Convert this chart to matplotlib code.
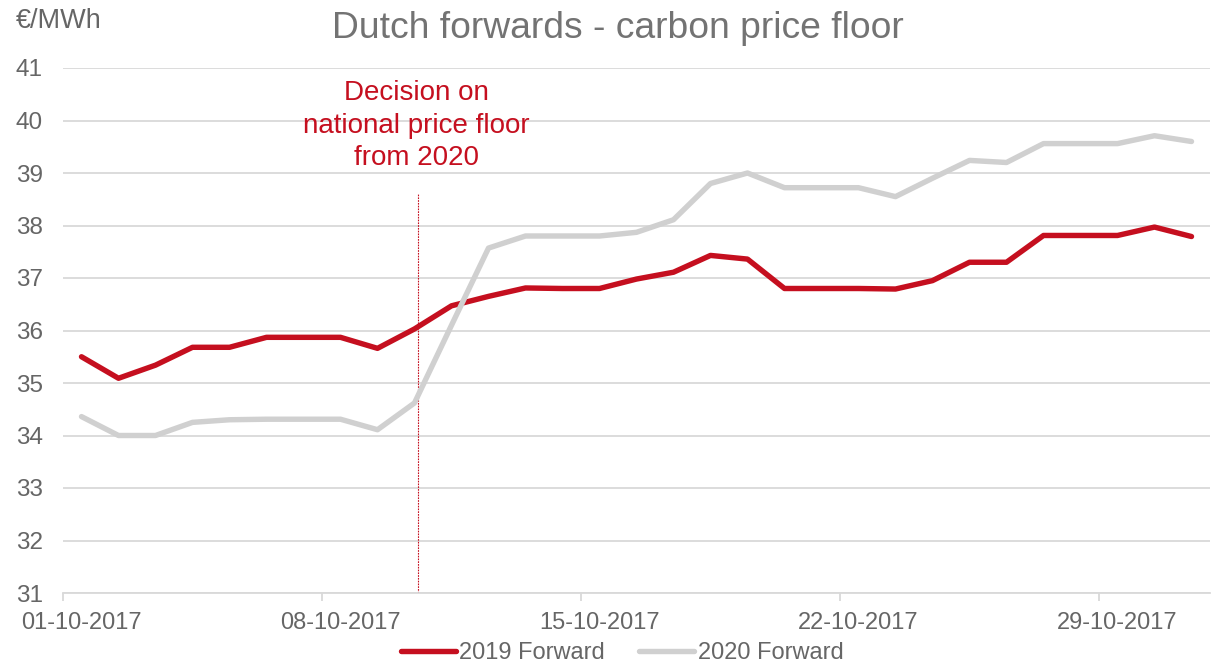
import matplotlib
matplotlib.use("Agg")
import matplotlib.pyplot as plt
import matplotlib.dates as mdates
import pandas as pd

plt.rcParams['font.family'] = ['Liberation Sans', 'DejaVu Sans']

# ---- data ----
dates = pd.date_range("2017-10-01", "2017-10-31", freq="D")
fwd_2019 = [35.50, 35.09, 35.34, 35.68, 35.68, 35.87, 35.87, 35.87, 35.66, 36.03,
            36.47, 36.65, 36.81, 36.80, 36.80, 36.98, 37.11, 37.43, 37.36, 36.80,
            36.80, 36.80, 36.79, 36.95, 37.30, 37.30, 37.81, 37.81, 37.81, 37.97, 37.79]
fwd_2020 = [34.36, 34.00, 34.00, 34.25, 34.30, 34.31, 34.31, 34.31, 34.11, 34.62,
            36.10, 37.57, 37.80, 37.80, 37.80, 37.87, 38.11, 38.80, 39.00, 38.72,
            38.72, 38.72, 38.55, 38.90, 39.24, 39.20, 39.56, 39.56, 39.56, 39.71, 39.60]
series_names = ["2019 Forward", "2020 Forward"]
tick_dates = pd.to_datetime(["2017-10-01", "2017-10-08", "2017-10-15", "2017-10-22", "2017-10-29"])
tick_labels = ["01-10-2017", "08-10-2017", "15-10-2017", "22-10-2017", "29-10-2017"]
y_ticks = list(range(31, 42))
decision_date = pd.Timestamp("2017-10-10 02:00")
decision_text = "Decision on\nnational price floor\nfrom 2020"
title = "Dutch forwards - carbon price floor"
unit = "€/MWh"

RED = "#C50F1F"
GREY = "#D0D0D0"
TXT = "#666666"
GRID = "#D9D9D9"

fig = plt.figure(figsize=(12.12, 6.63), dpi=100)
ax = fig.add_axes([63/1212, 1-593/663, (1210-63)/1212, (593-68)/663])

half = pd.Timedelta(hours=12)
ax.set_xlim(dates[0] - half, dates[-1] + half)
ax.set_ylim(31, 41)

l1, = ax.plot(dates, fwd_2019, color=RED, lw=3.9, solid_capstyle='round', zorder=3, label=series_names[0])
l2, = ax.plot(dates, fwd_2020, color=GREY, lw=3.9, solid_capstyle='round', zorder=4, label=series_names[1])

ax.vlines(decision_date, 31, 38.62, colors=RED, linestyles=(0, (1.5, 1.0)), lw=0.8, zorder=2)
ax.text(decision_date - pd.Timedelta(hours=1), 40.77, decision_text, ha='center', va='top',
        color=RED, fontsize=20, linespacing=1.33)

ax.set_yticks(y_ticks)
ax.set_yticklabels([str(v) for v in y_ticks])
ax.yaxis.grid(True, color=GRID, lw=1.3)
ax.set_axisbelow(True)
ax.tick_params(axis='y', length=0, pad=14.5, labelsize=17.5, labelcolor=TXT)

ax.set_xticks(tick_dates)
ax.set_xticklabels(tick_labels)
ax.set_xticks([d - half for d in tick_dates], minor=True)
ax.tick_params(axis='x', which='major', length=0, pad=14, labelsize=17, labelcolor=TXT)
ax.tick_params(axis='x', which='minor', length=6, width=1.3, color=GRID, direction='out')

for s in ['top', 'right', 'left']:
    ax.spines[s].set_visible(False)
ax.spines['bottom'].set_color(GRID)
ax.spines['bottom'].set_linewidth(1.3)

fig.text(618/1212, 1-28/663, title, ha='center', va='center', fontsize=26.8, color="#737373")
fig.text(16/1212, 1-21/663, unit, ha='left', va='center', fontsize=19.5, color=TXT)

leg = fig.legend(handles=[l1, l2], loc='center', bbox_to_anchor=(622/1212, 1-653/663), ncol=2,
                 frameon=False, fontsize=17, handlelength=2.33, handletextpad=0.15,
                 columnspacing=1.45, labelcolor=TXT)

fig.savefig("out.png", dpi=100)
